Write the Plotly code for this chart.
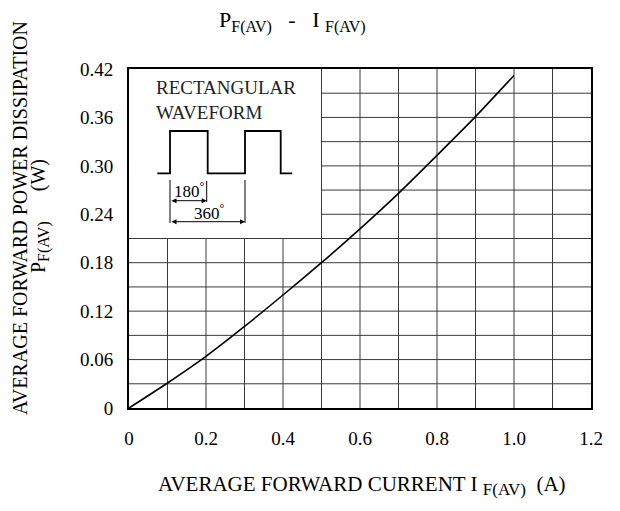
import plotly.graph_objects as go

# Data
current_a = [0, 0.1, 0.2, 0.3, 0.4, 0.5, 0.6, 0.7, 0.8, 0.9, 1.0]
power_w = [0, 0.031, 0.064, 0.101, 0.140, 0.180, 0.222, 0.266, 0.313, 0.361, 0.412]

x_tickvals = [0, 0.2, 0.4, 0.6, 0.8, 1.0, 1.2]
x_ticktext = ["0", "0.2", "0.4", "0.6", "0.8", "1.0", "1.2"]
y_tickvals = [0, 0.06, 0.12, 0.18, 0.24, 0.30, 0.36, 0.42]
y_ticktext = ["0", "0.06", "0.12", "0.18", "0.24", "0.30", "0.36", "0.42"]

FONT = "Liberation Serif"
GRID = "#3a3a3a"
SUB = "<sub><span style='font-size:16px'>F(AV)</span></sub>"
SUBX = "<sub><span style='font-size:17px'>F(AV)</span></sub>"

fig = go.Figure()
fig.add_trace(go.Scatter(x=current_a, y=power_w, mode="lines",
                         line=dict(color="black", width=1.6, shape="spline", smoothing=0.6),
                         hoverinfo="skip", showlegend=False))

shapes = []
inset_x1, inset_y0 = 0.5, 0.21
for i in range(1, 12):
    gx = round(i * 0.1, 2)
    y1 = inset_y0 if gx < inset_x1 else 0.42
    shapes.append(dict(type="line", xref="x", yref="y", x0=gx, x1=gx, y0=0, y1=y1,
                       line=dict(color=GRID, width=1), layer="below"))
for j in range(1, 14):
    gy = round(j * 0.03, 3)
    x0 = 0 if gy <= inset_y0 + 1e-9 else inset_x1
    shapes.append(dict(type="line", xref="x", yref="y", x0=x0, x1=1.2, y0=gy, y1=gy,
                       line=dict(color=GRID, width=1), layer="below"))

# waveform inset drawing
wx = [0.0735, 0.1065, 0.1065, 0.2044, 0.2044, 0.3013, 0.3013, 0.394, 0.394, 0.424]
lo, hi = 0.2908, 0.3432
wy = [lo, lo, hi, hi, lo, lo, hi, hi, lo, lo]
path = "M " + " L ".join(f"{a},{b}" for a, b in zip(wx, wy))
shapes.append(dict(type="path", xref="x", yref="y", path=path,
                   line=dict(color="black", width=1.8)))


def py2v(py):
    return (408 - py) * 0.42 / 339


def px2v(px):
    return (px - 129) / 385


def ppx(px):
    return (px - 129) / 462


def ppy(py):
    return (408 - py) / 339


for (px, pa, pb) in [(170, 180, 223), (206.7, 181, 202), (245, 180, 223)]:
    shapes.append(dict(type="line", xref="x", yref="y", x0=px2v(px), x1=px2v(px),
                       y0=py2v(pa), y1=py2v(pb), line=dict(color="black", width=1)))

annotations = []
for (pxa, pxb, pyy) in [(170, 206.7, 200.7), (170, 245, 221.7)]:
    annotations.append(dict(x=px2v(pxb), y=py2v(pyy), ax=px2v(pxa), ay=py2v(pyy),
                            xref="x", yref="y", axref="x", ayref="y", text="",
                            showarrow=True, arrowhead=2, startarrowhead=2,
                            arrowside="end+start", arrowsize=1, arrowwidth=1,
                            arrowcolor="black"))
annotations.append(dict(x=px2v(189), y=py2v(190), xref="x", yref="y", text="180<sup>°</sup>",
                        xanchor="center", yanchor="middle",
                        showarrow=False, font=dict(family=FONT, size=17, color="black")))
annotations.append(dict(x=px2v(209), y=py2v(211.5), xref="x", yref="y", text="360<sup>°</sup>",
                        xanchor="center", yanchor="middle",
                        showarrow=False, font=dict(family=FONT, size=17, color="black")))
annotations.append(dict(x=px2v(154), y=py2v(75), xref="x", yref="y",
                        text="RECTANGULAR<br>WAVEFORM", align="left",
                        xanchor="left", yanchor="top", showarrow=False,
                        font=dict(family=FONT, size=19, color="#222")))

# title
annotations.append(dict(x=ppx(292), y=ppy(21), xref="paper", yref="paper",
                        xanchor="center", yanchor="middle",
                        text="P" + SUB + "   -   I " + SUB, showarrow=False,
                        font=dict(family=FONT, size=22, color="black")))
# x title
annotations.append(dict(x=ppx(362), y=ppy(486), xref="paper", yref="paper",
                        xanchor="center", yanchor="middle",
                        text="AVERAGE FORWARD CURRENT I " + SUBX + "  (A)", showarrow=False,
                        font=dict(family=FONT, size=21, color="black")))
# y title lines
annotations.append(dict(x=ppx(20), y=ppy(218), xref="paper", yref="paper",
                        xanchor="center", yanchor="middle",
                        text="AVERAGE FORWARD POWER DISSIPATION", textangle=-90, showarrow=False,
                        font=dict(family=FONT, size=20, color="black")))
annotations.append(dict(x=ppx(40), y=ppy(216), xref="paper", yref="paper",
                        xanchor="center", yanchor="middle",
                        text="P" + SUB + "      (W)", textangle=-90, showarrow=False,
                        font=dict(family=FONT, size=20, color="black")))

# page has an 8px body margin: shrink figure so the plot area lands where the reference has it
OFF = 8
fig.update_layout(
    width=620 - OFF, height=511 - OFF,
    margin=dict(l=129 - OFF, r=29, t=69 - OFF, b=103),
    paper_bgcolor="white", plot_bgcolor="white",
    shapes=shapes, annotations=annotations,
    font=dict(family=FONT, size=19, color="black"),
    xaxis=dict(range=[0, 1.2], tickvals=x_tickvals, ticktext=x_ticktext, showgrid=False,
               zeroline=False, showline=True, linecolor="black", linewidth=2, mirror=True,
               ticks="", ticklabelstandoff=12, tickfont=dict(family=FONT, size=19)),
    yaxis=dict(range=[0, 0.42], tickvals=y_tickvals, ticktext=y_ticktext, showgrid=False,
               zeroline=False, showline=True, linecolor="black", linewidth=2, mirror=True,
               ticks="", ticklabelstandoff=10, tickfont=dict(family=FONT, size=19)),
)

fig.write_html("out.html")
